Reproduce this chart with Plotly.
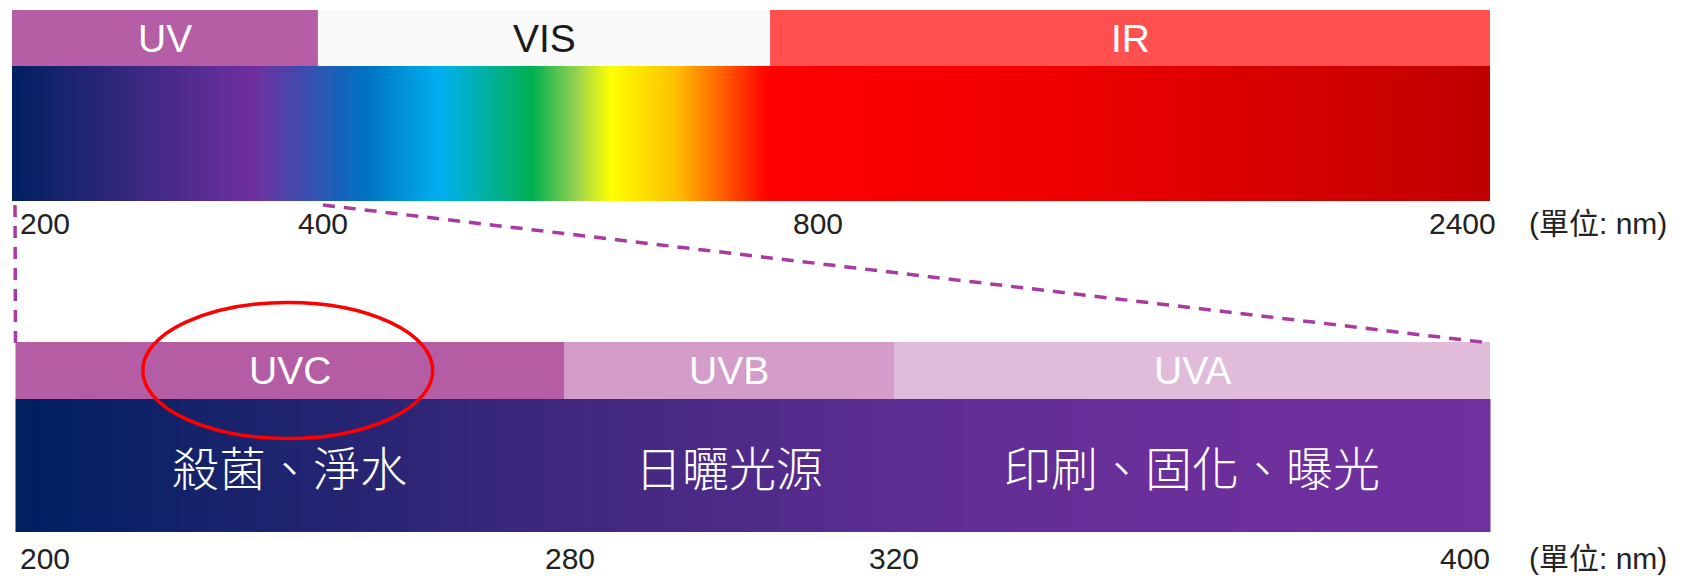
import numpy as np
import plotly.graph_objects as go

# ---------------- data ----------------
top_bounds_nm = [200, 400, 800, 2400]
top_bands = ["UV", "VIS", "IR"]

bottom_bounds_nm = [200, 280, 320, 400]
bottom_bands = ["UVC", "UVB", "UVA"]
bottom_uses = ["殺菌、淨水", "日曬光源", "印刷、固化、曝光"]

unit_label = "(單位: nm)"
highlight_band = "UVC"

# ---------------- style ----------------
top_band_colors = ["#b55ea5", "#fafafa", "#ff5050"]
top_label_colors = ["#ffffff", "#1a1a1a", "#ffffff"]
bottom_band_colors = ["#b45ca4", "#d39cc9", "#e0bcda"]

spectrum_scale = [
    [0.000, "#002060"], [0.164, "#7030a0"], [0.237, "#0070c0"],
    [0.290, "#00b0f0"], [0.352, "#00b050"], [0.381, "#92d050"],
    [0.405, "#ffff00"], [0.449, "#ffc000"], [0.511, "#ff0000"],
    [0.700, "#f00000"], [1.000, "#c00000"],
]
uv_scale = [
    [0.00, "#002060"], [0.38, "#40287f"], [0.60, "#5c2d92"],
    [0.77, "#6a2f9a"], [1.00, "#7030a0"],
]

W, H = 1684, 576
TOP = dict(left=12, right=1490, label_y=(10, 66), grad_y=(66, 201),
           fracs=[0, 0.2070, 0.5129, 1.0], bounds=top_bounds_nm, tick_y=223)
BOT = dict(left=15.5, right=1490, label_y=(342, 399), grad_y=(399, 532),
           fracs=[0, 0.372, 0.5958, 1.0], bounds=bottom_bounds_nm, tick_y=558)

# tick label placement styling (anchor, shift) for each boundary
top_tick_style = [("left", 6), ("center", 5), ("center", 48), ("right", 8)]
bot_tick_style = [("left", 2), ("center", 6), ("center", 0), ("right", 2)]

TICK_FONT = dict(family="Liberation Sans, Arial, Noto Sans CJK TC", size=30, color="#222222")
BAND_FONT_FAMILY = "Liberation Sans, Arial, sans-serif"
CJK_FAMILY = "Noto Sans CJK TC, Noto Sans CJK SC, sans-serif"
DASH_COLOR = "#a83aa0"


def nm_to_x(nm, spec):
    frac = np.interp(nm, spec["bounds"], spec["fracs"])
    return spec["left"] + frac * (spec["right"] - spec["left"])


fig = go.Figure()
shapes = []
annotations = []


def gradient(spec, scale):
    n = 740
    left, right = spec["left"], spec["right"]
    dx = (right - left) / n
    y0, y1 = spec["grad_y"]
    fig.add_trace(go.Heatmap(
        z=[np.linspace(0, 1, n)], x0=left + dx / 2, dx=dx,
        y0=(y0 + y1) / 2, dy=(y1 - y0),
        colorscale=scale, zmin=0, zmax=1, showscale=False,
        hoverinfo="skip",
    ))


def band_row(spec, names, colors, label_colors):
    b = spec["bounds"]
    y0, y1 = spec["label_y"]
    for i, name in enumerate(names):
        xa, xb = nm_to_x(b[i], spec), nm_to_x(b[i + 1], spec)
        shapes.append(dict(type="rect", xref="x", yref="y", x0=xa, x1=xb, y0=y0, y1=y1,
                           fillcolor=colors[i], line=dict(width=0), layer="below"))
        annotations.append(dict(x=(xa + xb) / 2, y=(y0 + y1) / 2, xref="x", yref="y",
                                text=name, showarrow=False, xanchor="center", yanchor="middle",
                                font=dict(family=BAND_FONT_FAMILY, size=39, color=label_colors[i])))


def ticks(spec, style):
    b = spec["bounds"]
    for i, nm in enumerate(b):
        anchor, shift = style[i]
        x = spec["left"] if i == 0 else (spec["right"] if i == len(b) - 1 else nm_to_x(nm, spec))
        annotations.append(dict(x=x, y=spec["tick_y"], xref="x", yref="y", text=str(nm),
                                showarrow=False, xanchor=anchor, yanchor="middle", xshift=shift,
                                font=TICK_FONT))
    annotations.append(dict(x=spec["right"], y=spec["tick_y"], xref="x", yref="y", text=unit_label,
                            showarrow=False, xanchor="left", yanchor="middle", xshift=37,
                            font=TICK_FONT))


gradient(TOP, spectrum_scale)
gradient(BOT, uv_scale)
band_row(TOP, top_bands, top_band_colors, top_label_colors)
band_row(BOT, bottom_bands, bottom_band_colors, ["#ffffff"] * 3)
ticks(TOP, top_tick_style)
ticks(BOT, bot_tick_style)

# uses text inside the UV gradient
gy0, gy1 = BOT["grad_y"]
for i, txt in enumerate(bottom_uses):
    xa, xb = nm_to_x(bottom_bounds_nm[i], BOT), nm_to_x(bottom_bounds_nm[i + 1], BOT)
    annotations.append(dict(x=(xa + xb) / 2, y=(gy0 + gy1) / 2, xref="x", yref="y", text=txt,
                            showarrow=False, xanchor="center", yanchor="middle",
                            font=dict(family=CJK_FAMILY, size=47, color="#ffffff", weight=300)))

# zoom connector dashed lines (UV range 200-400 of the top bar -> bottom bar)
uv_lo, uv_hi = bottom_bounds_nm[0], bottom_bounds_nm[-1]
for nm_top, nm_bot in [(uv_lo, uv_lo), (uv_hi, uv_hi)]:
    shapes.append(dict(type="line", xref="x", yref="y",
                       x0=nm_to_x(nm_top, TOP) + (3 if nm_top == uv_lo else 5), y0=TOP["grad_y"][1] + 4,
                       x1=nm_to_x(nm_bot, BOT), y1=BOT["label_y"][0] + 1,
                       line=dict(color=DASH_COLOR, width=3.5, dash="12px,9px")))

# highlight ellipse around UVC label
hi = bottom_bands.index(highlight_band)
xa, xb = nm_to_x(bottom_bounds_nm[hi], BOT), nm_to_x(bottom_bounds_nm[hi + 1], BOT)
cx = (xa + xb) / 2 - 2
cy = sum(BOT["label_y"]) / 2
shapes.append(dict(type="circle", xref="x", yref="y", x0=cx - 145, x1=cx + 145,
                   y0=cy - 68, y1=cy + 68, line=dict(color="#ff0000", width=3.5),
                   fillcolor="rgba(0,0,0,0)", layer="above"))

fig.update_layout(
    width=W, height=H, margin=dict(l=0, r=0, t=0, b=0),
    paper_bgcolor="#ffffff", plot_bgcolor="#ffffff",
    xaxis=dict(range=[0, W], visible=False, fixedrange=True),
    yaxis=dict(range=[H, 0], visible=False, fixedrange=True),
    shapes=shapes, annotations=annotations, showlegend=False,
)

fig.write_html(
    "out.html",
    config={"displayModeBar": False},
    post_script="document.body.style.margin='0';document.body.style.padding='0';"
                "document.body.style.overflow='hidden';",
)
